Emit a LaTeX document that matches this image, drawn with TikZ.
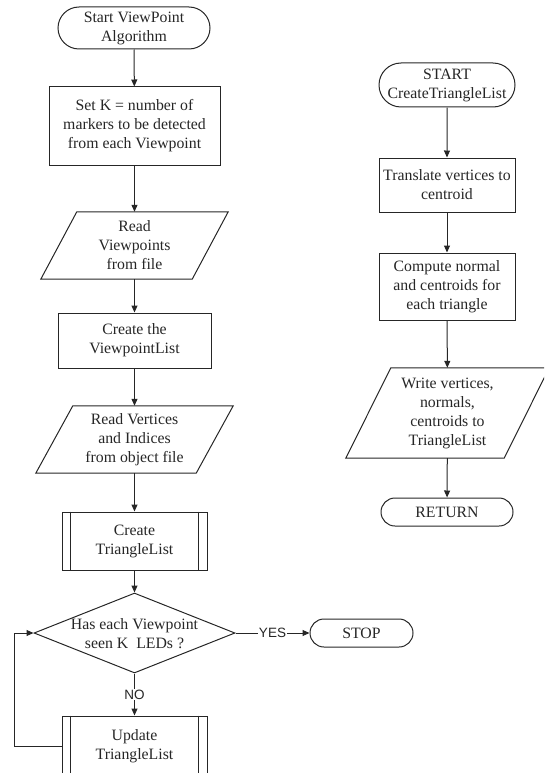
\documentclass[tikz,border=0pt]{standalone}
\usepackage{fontspec}
\setmainfont{Liberation Serif}
\newfontfamily\lsans{Liberation Sans}
\usetikzlibrary{shapes.geometric,shapes.misc,arrows.meta}
\begin{document}
\begin{tikzpicture}[x=1pt,y=-1pt,
  base/.style={inner sep=0pt, align=center, font=\fontsize{15.8}{19}\selectfont, text=black!85},
  term/.style={base, draw=black!85, rounded rectangle, line width=1pt},
  proc/.style={base, draw=black!85, rectangle, line width=1pt},
  iobox/.style={base, rectangle},
  dec/.style={diamond, draw=black!85, inner sep=0pt, line width=1pt, minimum width=201pt, minimum height=80pt},
  lbl/.style={font=\lsans\fontsize{13.5}{15}\selectfont, fill=white, inner sep=1pt, text=black!85},
  ln/.style={line width=1pt, draw=black!85},
  arr/.style={ln, -{Triangle[length=7pt,width=6pt]}}
]
\clip (0,0) rectangle (544,773);
% left column
\node[term, minimum width=152pt, minimum height=42pt] (st) at (134,28) {Start ViewPoint\\Algorithm};
\node[proc, minimum width=171pt, minimum height=78pt] (setk) at (134.5,126) {Set K = number of\\markers to be detected\\from each Viewpoint};
\node[iobox, minimum width=151pt, minimum height=67pt] (rv) at (134.5,245.5) {Read\\Viewpoints\\from file};
\node[proc, minimum width=153pt, minimum height=55pt] (cvl) at (134.5,340.5) {Create the\\ViewpointList};
\node[iobox, minimum width=160pt, minimum height=67pt] (ro) at (134.5,439.5) {Read Vertices\\and Indices\\from object file};
\node[proc, minimum width=145pt, minimum height=58pt] (ctl) at (134.5,541) {Create\\TriangleList};
\node[dec] (d) at (134.5,633) {};
\node[base] (dtext) at (134.5,634) {Has each Viewpoint\\seen K\ \ LEDs ?};
\node[proc, minimum width=145pt, minimum height=60pt] (upd) at (134.5,746) {Update\\TriangleList};
\node[term, minimum width=103pt, minimum height=28pt] (stop) at (361.5,633) {STOP};
% right column
\node[term, minimum width=136pt, minimum height=44pt] (st2) at (447,85) {START\\CreateTriangleList};
\node[proc, minimum width=136pt, minimum height=54pt] (tr) at (447,185) {Translate vertices to\\centroid};
\node[proc, minimum width=136pt, minimum height=67pt] (cn) at (447,286.5) {Compute normal\\and centroids for\\each triangle};
\node[iobox, minimum width=158pt, minimum height=90pt] (wv) at (447.5,413) {Write vertices,\\normals,\\centroids to\\TriangleList};
\node[term, minimum width=132pt, minimum height=28pt] (ret) at (447,512) {RETURN};
% parallelogram outlines
\foreach \n/\s in {rv/18,ro/18.5,wv/22.5}
  \draw[ln] ([xshift=-\s]\n.south west) -- ([xshift=-\s]\n.south east) -- ([xshift=\s]\n.north east) -- ([xshift=\s]\n.north west) -- cycle;
% subroutine inner lines
\foreach \n in {ctl,upd} {
  \draw[ln] ([xshift=9]\n.north west) -- ([xshift=9]\n.south west);
  \draw[ln] ([xshift=-9]\n.north east) -- ([xshift=-9]\n.south east);
}
% connectors
\draw[arr] (st) -- (setk);
\draw[arr] (setk) -- (rv);
\draw[arr] (rv) -- (cvl);
\draw[arr] (cvl) -- (ro);
\draw[arr] (ro) -- (ctl);
\draw[arr] (ctl) -- (d);
\draw[arr] (d.south) -- node[lbl] {NO} (upd.north);
\draw[arr] (d.east) -- node[lbl] {YES} (stop.west);
\draw[arr] (upd.west) -- ++(-47,0) |- (d.west);
\draw[arr] (st2) -- (tr);
\draw[arr] (tr) -- (cn);
\draw[arr] (cn) -- (wv);
\draw[arr] (wv) -- (ret);
\end{tikzpicture}
\end{document}
